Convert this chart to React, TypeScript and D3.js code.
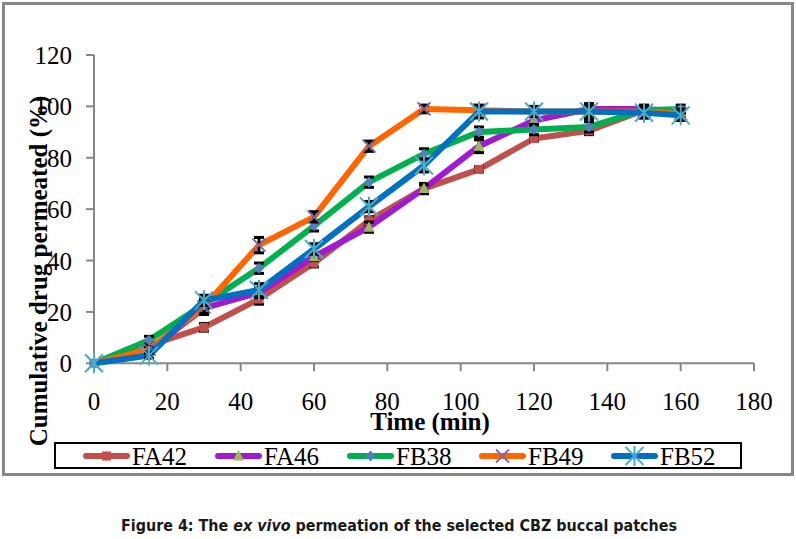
import React from "react";
import * as d3 from "d3";

const times = [0, 15, 30, 45, 60, 75, 90, 105, 120, 135, 150, 160];
const FA42 = [0, 7, 14, 25, 39, 55.5, 68, 75.5, 87.5, 90.5, 98.5, 97];
const FA46 = [0, 5, 21.5, 27.5, 41.5, 53, 68, 84.5, 94.5, 99, 99, 98];
const FB38 = [0, 9, 23, 37, 53.5, 70.5, 81.5, 90, 91, 92, 98.5, 99];
const FB49 = [0, 5.5, 22, 46, 57, 84.5, 99, 98.5, 98, 98, 98, 97];
const FB52 = [0, 3, 24.5, 28.5, 44.5, 61, 77, 98, 98, 98, 97.5, 96.5];

const FA42_sd = [0, 1, 1.5, 2, 1.5, 1.5, 2, 1, 1, 1.5, 1, 1];
const FA46_sd = [0, 1, 2.5, 2, 1.5, 2, 1.5, 2.5, 2, 2, 1, 1];
const FB38_sd = [0, 1.5, 2, 2, 2, 2, 2, 2, 2, 2, 1.5, 1.5];
const FB49_sd = [0, 1, 2.5, 3, 2, 2, 1.5, 1.5, 1.5, 3, 2.5, 2];
const FB52_sd = [0, 1, 2, 2.5, 2, 2, 2.5, 2.5, 2, 2, 2, 2];

const xTicks = [0, 20, 40, 60, 80, 100, 120, 140, 160, 180];
const yTicks = [0, 20, 40, 60, 80, 100, 120];

const seriesNames = ["FA42", "FA46", "FB38", "FB49", "FB52"];
const seriesValues = [FA42, FA46, FB38, FB49, FB52];
const seriesSd = [FA42_sd, FA46_sd, FB38_sd, FB49_sd, FB52_sd];
const lineColors = ["#C0504D", "#9E1BD0", "#00B050", "#FF6600", "#0070C0"];
const markerColors = ["#C0504D", "#9BBB59", "#4F81BD", "#8064A2", "#4BACC6"];
const markerTypes = ["square", "triangle", "diamond", "x", "star"];

const serif = "'Liberation Serif', 'Times New Roman', serif";

function Marker({ type, color, x, y }: { type: string; color: string; x: number; y: number }) {
  if (type === "square") return <rect x={x - 4.5} y={y - 4.5} width={9} height={9} fill={color} />;
  if (type === "triangle")
    return <path d={`M${x},${y - 6}L${x + 5.5},${y + 4.5}L${x - 5.5},${y + 4.5}Z`} fill={color} />;
  if (type === "diamond")
    return <path d={`M${x},${y - 5.5}L${x + 5},${y}L${x},${y + 5.5}L${x - 5},${y}Z`} fill={color} />;
  if (type === "x")
    return (
      <path
        d={`M${x - 6.5},${y - 6.5}L${x + 6.5},${y + 6.5}M${x + 6.5},${y - 6.5}L${x - 6.5},${y + 6.5}`}
        stroke={color}
        strokeWidth={1.8}
      />
    );
  return (
    <path
      d={`M${x - 9},${y - 9}L${x + 9},${y + 9}M${x + 9},${y - 9}L${x - 9},${y + 9}M${x},${y - 10}L${x},${y + 10}`}
      stroke={color}
      strokeWidth={2}
    />
  );
}

export default function App() {
  const x = d3.scaleLinear().domain([0, 180]).range([94, 754]);
  const y = d3.scaleLinear().domain([0, 120]).range([363.3, 55]);
  const line = d3
    .line<number>()
    .x((_, i) => x(times[i]))
    .y((d) => y(d));

  return (
    <>
      <style>{"body{margin:0}"}</style>
      <svg width={796} height={539} style={{ display: "block" }}>
        <rect x={0} y={0} width={796} height={539} fill="#fff" />
        <rect x={3.5} y={3.5} width={789} height={471} fill="#fff" stroke="#878787" strokeWidth={3} />

        {/* axes */}
        <line x1={94} x2={94} y1={y(120)} y2={y(0)} stroke="#878787" strokeWidth={2} />
        <line x1={94} x2={x(180)} y1={y(0)} y2={y(0)} stroke="#878787" strokeWidth={2} />
        {yTicks.map((t) => (
          <g key={"y" + t}>
            <line x1={86} x2={94} y1={y(t)} y2={y(t)} stroke="#878787" strokeWidth={2} />
            <text x={72} y={y(t) + 9} textAnchor="end" fontFamily={serif} fontSize={25} fill="#000">
              {t}
            </text>
          </g>
        ))}
        {xTicks.map((t) => (
          <g key={"x" + t}>
            <line x1={x(t)} x2={x(t)} y1={y(0)} y2={y(0) + 8} stroke="#878787" strokeWidth={2} />
            <text x={x(t)} y={410} textAnchor="middle" fontFamily={serif} fontSize={25} fill="#000">
              {t}
            </text>
          </g>
        ))}

        {/* series */}
        {seriesValues.map((vals, si) => (
          <g key={seriesNames[si]}>
            <path
              d={line(vals) || ""}
              fill="none"
              stroke={lineColors[si]}
              strokeWidth={6}
              strokeLinejoin="round"
            />
            {vals.map((v, i) =>
              seriesSd[si][i] > 0 ? (
                <g key={"e" + i} stroke="#000" strokeWidth={3}>
                  <line x1={x(times[i])} x2={x(times[i])} y1={y(v + seriesSd[si][i])} y2={y(v - seriesSd[si][i])} />
                  <line x1={x(times[i]) - 5} x2={x(times[i]) + 5} y1={y(v + seriesSd[si][i])} y2={y(v + seriesSd[si][i])} />
                  <line x1={x(times[i]) - 5} x2={x(times[i]) + 5} y1={y(v - seriesSd[si][i])} y2={y(v - seriesSd[si][i])} />
                </g>
              ) : null
            )}
            {vals.map((v, i) => (
              <Marker key={"m" + i} type={markerTypes[si]} color={markerColors[si]} x={x(times[i])} y={y(v)} />
            ))}
          </g>
        ))}

        {/* axis titles */}
        <text x={430} y={430} textAnchor="middle" fontFamily={serif} fontSize={25} fontWeight="bold" fill="#000">
          Time (min)
        </text>
        <text
          transform="translate(47,271) rotate(-90)"
          textAnchor="middle"
          fontFamily={serif}
          fontSize={25}
          fontWeight="bold"
          fill="#000"
        >
          Cumulative drug permeated (%)
        </text>

        {/* legend */}
        <rect x={55} y={443} width={686} height={25} fill="#fff" stroke="#000" strokeWidth={2} />
        {seriesNames.map((n, si) => {
          const x0 = 83 + si * 132;
          return (
            <g key={"l" + n}>
              <line x1={x0 + 3} x2={x0 + 44} y1={456} y2={456} stroke={lineColors[si]} strokeWidth={6} strokeLinecap="round" />
              <Marker type={markerTypes[si]} color={markerColors[si]} x={x0 + 23.5} y={456} />
              <text x={x0 + 49} y={465} fontFamily={serif} fontSize={25} fill="#000">
                {n}
              </text>
            </g>
          );
        })}

        {/* caption */}
        <text
          x={399}
          y={531}
          textAnchor="middle"
          fontFamily="'DejaVu Sans Condensed', 'DejaVu Sans', sans-serif"
          fontSize={16.5}
          fontWeight="bold"
          fill="#1a1a1a"
          textLength={556}
          lengthAdjust="spacingAndGlyphs"
        >
          Figure 4: The <tspan fontStyle="italic">ex vivo</tspan> permeation of the selected CBZ buccal patches
        </text>
      </svg>
    </>
  );
}
